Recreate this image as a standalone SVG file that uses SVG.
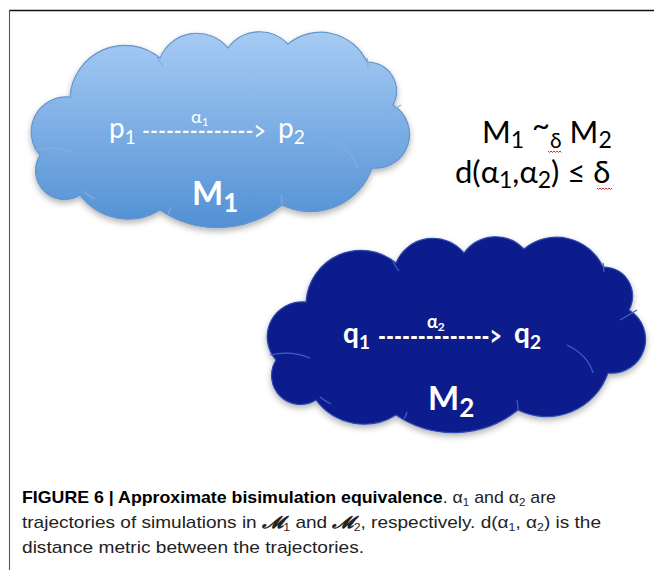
<svg xmlns="http://www.w3.org/2000/svg" xmlns:xlink="http://www.w3.org/1999/xlink" width="654" height="570" viewBox="0 0 654 570">
<style>
.frame-top{stroke:#111;stroke-width:1.6;fill:none}
.frame-left{stroke:#555;stroke-width:1.1;fill:none}
.c1{fill:url(#g1);stroke:#6495cc;stroke-width:1.2}
.c2{fill:#0a1e8d;stroke:#2e49ad;stroke-width:1.2}
.in1{fill:none;stroke:#82ade0;stroke-width:1.2}
.in2{fill:none;stroke:#4260c4;stroke-width:1.2}
.lbl{font-family:Lato,"Open Sans","Liberation Sans",sans-serif;fill:#fff}
.big{font-family:Lato,"Open Sans","Liberation Sans",sans-serif;font-weight:bold;fill:#fff}
.eq{font-family:Lato,"Open Sans","Liberation Sans",sans-serif;fill:#000}
.cap{font-family:"Liberation Sans Narrow","Liberation Sans",Arial,sans-serif;font-size:17px;fill:#222}
.wavy{fill:none;stroke:#d92b2b;stroke-width:1}
</style>
<defs>
<linearGradient id="g1" x1="0" y1="0" x2="0" y2="1">
<stop offset="0" stop-color="#a6cbf4"/>
<stop offset="1" stop-color="#5290d4"/>
</linearGradient>
<filter id="sh" x="-10%" y="-10%" width="120%" height="130%">
<feDropShadow dx="0" dy="3" stdDeviation="3" flood-color="#000" flood-opacity="0.3"/>
</filter>
<path id="cloud" d="M40,155 A35,35 0 0 1 70,97 A55,55 0 0 1 160,58 A40,40 0 0 1 228,48 A39,39 0 0 1 288,44 A51,51 0 0 1 367,62 A29,29 0 0 1 393,105 A34,34 0 0 1 372,168 A65,65 0 0 1 282,205 A103,103 0 0 1 160,210 A60,60 0 0 1 80,195 A29,29 0 0 1 40,155 Z"/>
<path id="inner" d="M34,150 Q55,145 74,153 M331,140 Q352,150 357,168 M384,115 Q393,110 401,105 M157,57 Q160,62 163,66 M367,58 Q368,62 368,67 M84,192 Q89,196 95,199 M171,207 Q170,211 168,214 M281,195 Q282,200 282,205"/>
</defs>

<g id="frame">
<line class="frame-top" x1="9" y1="10.5" x2="654" y2="10.5"/>
<line class="frame-left" x1="9.5" y1="10" x2="9.5" y2="570"/>
</g>

<g id="M1">
<use href="#cloud" class="c1" filter="url(#sh)"/>
<use href="#inner" class="in1"/>
<text class="lbl" x="109" y="138" font-size="28">p<tspan font-size="19" dy="6">1</tspan></text>
<text class="lbl" x="278" y="138" font-size="28">p<tspan font-size="19" dy="6">2</tspan></text>
<text class="big" x="192" y="205" font-size="33">M<tspan font-size="26" dy="7">1</tspan></text>
</g>

<g id="M2">
<g transform="translate(236,205)">
<use href="#cloud" class="c2" filter="url(#sh)"/>
<use href="#inner" class="in2"/>
</g>
<text class="lbl" x="343" y="343" font-size="28" font-weight="bold">q<tspan font-size="19" dy="6">1</tspan></text>
<text class="lbl" x="514" y="343" font-size="28" font-weight="bold">q<tspan font-size="19" dy="6">2</tspan></text>
<text class="big" x="428" y="410" font-size="33">M<tspan font-size="26" dy="7">2</tspan></text>
</g>

<g id="connectors">
<g id="a1">
<text class="lbl" x="142" y="141" font-size="28" textLength="124" lengthAdjust="spacingAndGlyphs">--------------&gt;</text>
<text class="lbl" x="191" y="123" font-size="18">α<tspan font-size="12" dy="3">1</tspan></text>
</g>
<g id="a2">
<text class="lbl" x="378" y="346" font-size="28" font-weight="bold" textLength="124" lengthAdjust="spacingAndGlyphs">--------------&gt;</text>
<text class="lbl" x="427" y="328" font-size="18" font-weight="bold">α<tspan font-size="12" dy="3">2</tspan></text>
</g>
</g>

<g id="relation">
<text class="eq" x="482" y="143" font-size="31">M<tspan font-size="23" dy="5">1</tspan><tspan dy="-12"> ~</tspan><tspan font-size="21" dy="12">δ</tspan><tspan dy="-5"> M</tspan><tspan font-size="23" dy="5">2</tspan></text>
<text class="eq" x="455" y="183" font-size="31">d(α<tspan font-size="23" dy="5">1</tspan><tspan dy="-5">,α</tspan><tspan font-size="23" dy="5">2</tspan><tspan dy="-5">) ≤ δ</tspan></text>
<path class="wavy" d="M548,151 l1.5,1.5 l1.5,-1.5 l1.5,1.5 l1.5,-1.5 l1.5,1.5 l1.5,-1.5 l1.5,1.5 l1.5,-1.5 l1.5,1.5"/>
<path class="wavy" d="M597,188 l1.5,1.5 l1.5,-1.5 l1.5,1.5 l1.5,-1.5 l1.5,1.5 l1.5,-1.5 l1.5,1.5 l1.5,-1.5 l1.5,1.5 l1.5,-1.5"/>
</g>

<g id="caption">
<text class="cap" x="22" y="503" textLength="534" lengthAdjust="spacingAndGlyphs"><tspan font-weight="bold" fill="#000">FIGURE 6 | Approximate bisimulation equivalence</tspan>. α<tspan font-size="11" dy="3">1</tspan><tspan dy="-3"> and α</tspan><tspan font-size="11" dy="3">2</tspan><tspan dy="-3"> are</tspan></text>
<text class="cap" x="22" y="528" textLength="579" lengthAdjust="spacingAndGlyphs">trajectories of simulations in <tspan font-family="DejaVu Serif,serif" font-weight="bold" font-style="italic">𝓜</tspan><tspan font-size="11" dy="3">1</tspan><tspan dy="-3"> and </tspan><tspan font-family="DejaVu Serif,serif" font-weight="bold" font-style="italic">𝓜</tspan><tspan font-size="11" dy="3">2</tspan><tspan dy="-3">, respectively. d(α</tspan><tspan font-size="11" dy="3">1</tspan><tspan dy="-3">, α</tspan><tspan font-size="11" dy="3">2</tspan><tspan dy="-3">) is the</tspan></text>
<text class="cap" x="22" y="553" textLength="342" lengthAdjust="spacingAndGlyphs">distance metric between the trajectories.</text>
</g>
</svg>
